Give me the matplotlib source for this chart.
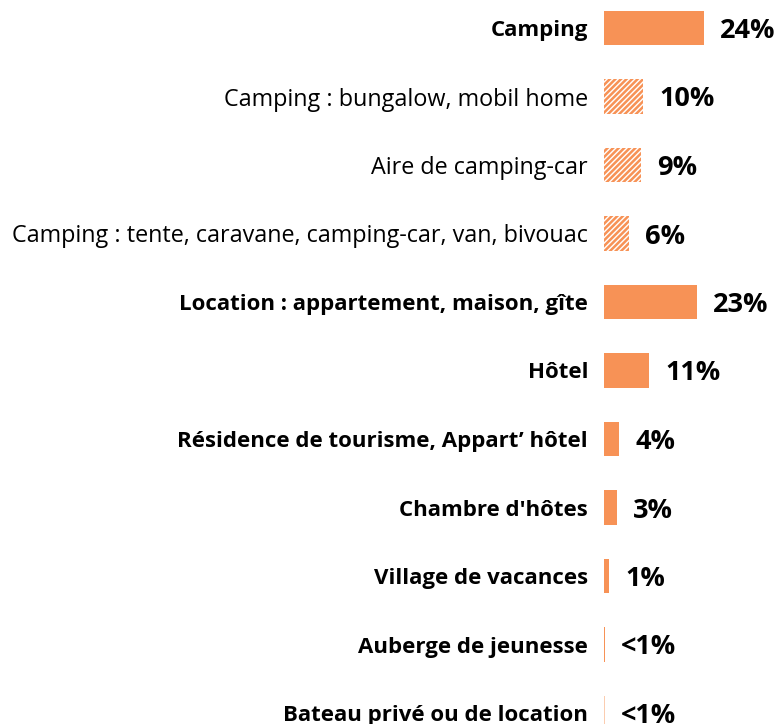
import matplotlib
matplotlib.use("Agg")
import matplotlib.pyplot as plt

categories = ["Camping", "Camping : bungalow, mobil home", "Aire de camping-car",
              "Camping : tente, caravane, camping-car, van, bivouac",
              "Location : appartement, maison, gîte", "Hôtel",
              "Résidence de tourisme, Appart\u2019 hôtel", "Chambre d'hôtes",
              "Village de vacances", "Auberge de jeunesse", "Bateau privé ou de location"]
values = [24, 9.4, 8.9, 6, 22.3, 10.8, 3.6, 3.1, 1.2, 0.3, 0.25]
value_labels = ["24%", "10%", "9%", "6%", "23%", "11%", "4%", "3%", "1%", "<1%", "<1%"]
bold_flags = [True, False, False, False, True, True, True, True, True, True, True]
hatched = [False, True, True, True, False, False, False, False, False, False, False]

orange = "#F79256"
plt.rcParams['font.family'] = ['Open Sans', 'DejaVu Sans']
plt.rcParams['hatch.linewidth'] = 1.8

W, H = 777, 724
fig = plt.figure(figsize=(W / 100, H / 100), dpi=100)
x0 = 604
ppu = 4.17
ax = fig.add_axes([x0 / W, 0, 1 - x0 / W, 1])
ax.set_xlim(0, (W - x0) / ppu)
row0, step = 28, 68.5
ax.set_ylim((H - row0) / step, -row0 / step)
ax.axis('off')

for i, (v, lab, b, h) in enumerate(zip(values, value_labels, bold_flags, hatched)):
    color = orange if i < len(values) - 1 else "#FBCDB0"
    if h:
        ax.barh(i, v, height=0.5, color='white', edgecolor=orange, hatch='//////', linewidth=0)
    else:
        ax.barh(i, v, height=0.5, color=color, linewidth=0)
    ax.text(v + 16 / ppu, i, lab, ha='left', va='center_baseline', fontsize=19.5, fontweight='bold', color='black')
    ax.text(-16 / ppu, i, categories[i], ha='right', va='center_baseline',
            fontsize=16 if b else 16.8,
            fontweight='bold' if b else 'normal', color='black', clip_on=False)

fig.savefig("out.png", dpi=100)
